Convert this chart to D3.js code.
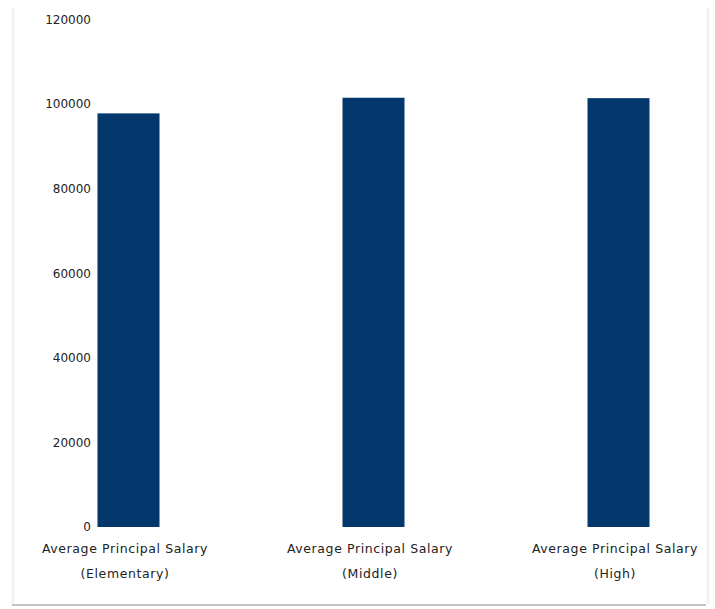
<!DOCTYPE html>
<html>
<head>
<meta charset="utf-8">
<script src="https://cdn.jsdelivr.net/npm/d3@7"></script>
<style>
  html, body { margin: 0; padding: 0; background: #fff; }
  svg { display: block; }
  text { font-family: "DejaVu Sans", Verdana, sans-serif; fill: #222; }
</style>
</head>
<body>
<svg id="chart" width="715" height="609"></svg>
<script>
// Average principal salaries by school level
const categories = ["Elementary", "Middle", "High"];
const labelLines = [
  ["Average Principal Salary", "(Elementary)"],
  ["Average Principal Salary", "(Middle)"],
  ["Average Principal Salary", "(High)"]
];
const salaries = [97800, 101500, 101400];
const yTicks = [0, 20000, 40000, 60000, 80000, 100000, 120000];

const svg = d3.select("#chart");

// faint outer frame
svg.append("line").attr("x1", 12).attr("x2", 706).attr("y1", 605).attr("y2", 605)
  .attr("stroke", "#c4c4c4").attr("stroke-width", 2);
svg.append("line").attr("x1", 13).attr("x2", 13).attr("y1", 8).attr("y2", 604)
  .attr("stroke", "#f2f2f2").attr("stroke-width", 3);
svg.append("line").attr("x1", 708).attr("x2", 708).attr("y1", 8).attr("y2", 604)
  .attr("stroke", "#f2f2f2").attr("stroke-width", 3);

const y = d3.scaleLinear().domain([0, 120000]).range([527, 19.5]);
const x = d3.scalePoint().domain(categories).range([128.5, 618.5]);
const barWidth = 62;

// y axis labels only (no axis line or tick marks)
const yAxis = d3.axisLeft(y).tickValues(yTicks).tickFormat(d3.format("d")).tickSize(0).tickPadding(0);
const yG = svg.append("g").attr("transform", "translate(91,0)").call(yAxis);
yG.select(".domain").remove();
yG.selectAll("text").attr("font-size", 12).attr("fill", "#1e1e1e")
  .attr("font-family", "DejaVu Sans, Verdana, sans-serif");

// bars
svg.append("g").selectAll("rect")
  .data(salaries)
  .join("rect")
  .attr("x", (d, i) => x(categories[i]) - barWidth / 2)
  .attr("y", d => y(d))
  .attr("width", barWidth)
  .attr("height", d => y(0) - y(d))
  .attr("fill", "#04376b");

// category labels, two lines each, sitting slightly left of the bar centre
const lab = svg.append("g").selectAll("text")
  .data(categories)
  .join("text")
  .attr("text-anchor", "middle")
  .attr("font-size", 12.5)
  .attr("letter-spacing", "0.6px");
lab.each(function (c, i) {
  const t = d3.select(this);
  labelLines[i].forEach((line, k) => {
    t.append("tspan")
      .attr("x", x(c) - 3.5)
      .attr("y", 553 + k * 25)
      .text(line);
  });
});
</script>
</body>
</html>
